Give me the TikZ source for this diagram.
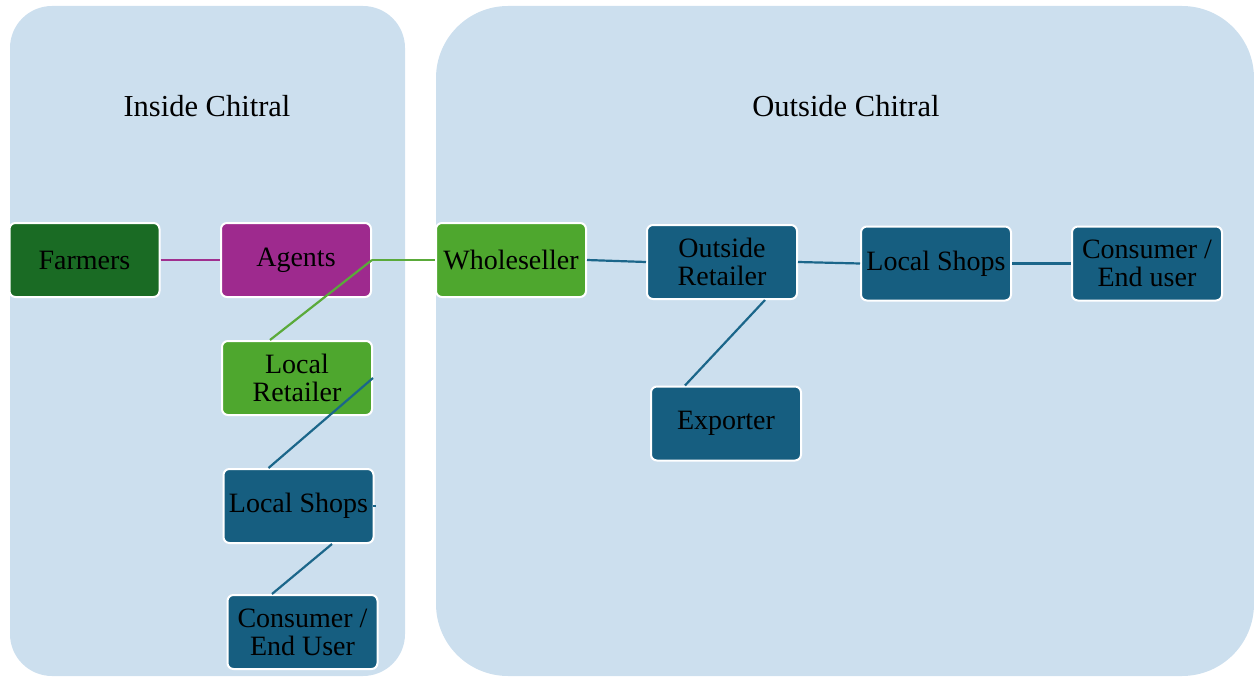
\documentclass[tikz,border=0pt]{standalone}
\usepackage{fontspec}
\setmainfont{Liberation Serif}
\usetikzlibrary{calc}
\definecolor{panelbg}{HTML}{CCDFEE}
\definecolor{farmgreen}{HTML}{1A6B24}
\definecolor{agentpurple}{HTML}{9E2A8E}
\definecolor{lightgreen}{HTML}{4EA72E}
\definecolor{tradeblue}{HTML}{165E80}
\definecolor{lineblue}{HTML}{1B668A}
\definecolor{linegreen}{HTML}{5AAA3A}
\definecolor{linepurple}{HTML}{A0308F}
\tikzset{
  panel/.style={fill=panelbg, draw=none},
  stage/.style={draw=white, line width=2pt, rounded corners=6pt,
    minimum width=150pt, minimum height=74pt, inner sep=0pt,
    align=center, font=\fontsize{28}{28}\selectfont, text=black},
  link/.style={line width=2.2pt, draw=lineblue},
  title/.style={font=\fontsize{30.5}{31}\selectfont, text=black}
}
\begin{document}
\begin{tikzpicture}[x=1pt,y=-1pt]
\useasboundingbox (0,0) rectangle (1254,677);
% background panels
\fill[panel, rounded corners=42pt] (10,6) rectangle (405,676);
\fill[panel, rounded corners=72pt] (436,6) rectangle (1254,676);
\node[title] (tin) at (207,106) {Inside Chitral};
\node[title] (tout) at (846,106) {Outside Chitral};
% stages of the chain
\node[stage, fill=farmgreen] (farmers) at (84.5,260) {Farmers};
\node[stage, fill=agentpurple] (agents) at (296,260) {Agents};
\node[stage, fill=lightgreen] (whole) at (511,260) {Wholeseller};
\node[stage, fill=lightgreen] (lret) at (297,378) {Local\\Retailer};
\node[stage, fill=tradeblue] (lshop) at (298.5,506) {Local Shops};
\node[stage, fill=tradeblue] (lcons) at (302.5,632) {Consumer /\\End User};
\node[stage, fill=tradeblue] (oret) at (722,262) {Outside\\Retailer};
\node[stage, fill=tradeblue] (rshop) at (936,263.5) {Local Shops};
\node[stage, fill=tradeblue] (rcons) at (1147,263.5) {Consumer /\\End user};
\node[stage, fill=tradeblue] (exp) at (726,423.5) {Exporter};
% connectors
\draw[link, draw=linepurple] (farmers.east) -- (agents.west);
\draw[link, draw=linegreen] (agents.east) -- (whole.west);
\draw[link, draw=linegreen] (agents.east) -- ([xshift=-27pt]lret.north);
\draw[link] (lret.east) -- ([xshift=-30pt]lshop.north);
\draw[link] ([xshift=-2pt]lshop.east) -- ++(3,0);
\draw[link] ([xshift=33.5pt]lshop.south) -- ([xshift=-30.5pt]lcons.north);
\draw[link] (whole.east) -- (oret.west);
\draw[link] (oret.east) -- (rshop.west);
\draw[link] (rshop.east) -- (rcons.west);
\draw[link] ([xshift=43pt]oret.south) -- ([xshift=-41pt]exp.north);
\end{tikzpicture}
\end{document}
